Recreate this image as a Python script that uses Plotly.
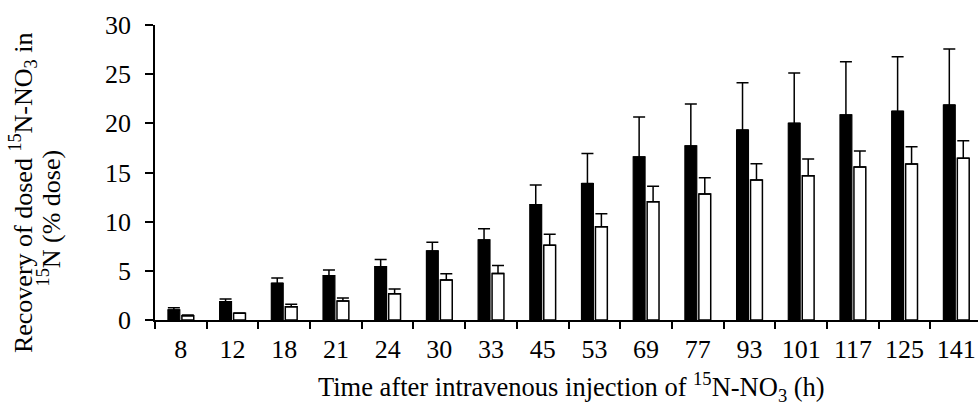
import plotly.graph_objects as go

categories = ["8", "12", "18", "21", "24", "30", "33", "45", "53", "69", "77", "93", "101", "117", "125", "141"]
black_vals = [1.02, 1.86, 3.73, 4.51, 5.42, 7.02, 8.14, 11.73, 13.87, 16.58, 17.70, 19.32, 20.00, 20.85, 21.22, 21.86]
black_err = [0.23, 0.28, 0.54, 0.58, 0.72, 0.88, 1.15, 2.00, 3.05, 4.06, 4.27, 4.81, 5.12, 5.42, 5.56, 5.70]
white_vals = [0.44, 0.68, 1.36, 1.93, 2.68, 4.07, 4.74, 7.59, 9.49, 12.03, 12.81, 14.24, 14.68, 15.56, 15.86, 16.44]
white_err = [0.08, 0.04, 0.23, 0.31, 0.47, 0.64, 0.79, 1.12, 1.32, 1.57, 1.66, 1.66, 1.69, 1.63, 1.77, 1.80]

FONT = "Liberation Serif"

fig = go.Figure()
fig.add_trace(go.Bar(
    x=categories, y=black_vals,
    marker=dict(color="black", line=dict(color="black", width=1.2)),
    error_y=dict(type="data", array=black_err, arrayminus=[0]*len(black_err), symmetric=False,
                 color="black", thickness=1.5, width=6),
    showlegend=False,
))
fig.add_trace(go.Bar(
    x=categories, y=white_vals,
    marker=dict(color="white", line=dict(color="black", width=1.5)),
    error_y=dict(type="data", array=white_err, arrayminus=[0]*len(white_err), symmetric=False,
                 color="black", thickness=1.5, width=6),
    showlegend=False,
))

fig.update_layout(
    width=978, height=403,
    margin=dict(l=155, r=0, t=25, b=83),
    paper_bgcolor="white", plot_bgcolor="white",
    barmode="group", bargap=0.46, bargroupgap=0.15,
    font=dict(family=FONT, color="black"),
    xaxis=dict(
        type="category", range=[-0.5, 15.42],
        showline=True, linecolor="black", linewidth=1.5,
        ticks="outside", ticklen=7, tickwidth=1.5, tickcolor="black",
        tickson="boundaries", showgrid=False, zeroline=False,
        tickfont=dict(family=FONT, size=26, color="black"),
        ticklabelstandoff=5,
    ),
    yaxis=dict(
        range=[0, 30], tickvals=[0, 5, 10, 15, 20, 25, 30],
        showline=True, linecolor="black", linewidth=1.5,
        ticks="outside", ticklen=8, tickwidth=1.5, tickcolor="black",
        showgrid=False, zeroline=False,
        tickfont=dict(family=FONT, size=26, color="black"),
        ticklabelstandoff=9,
    ),
    annotations=[
        dict(text="Recovery of dosed <sup>15</sup>N-NO<sub>3</sub> in",
             xref="paper", yref="paper", x=-0.161, y=0.432, xanchor="center", yanchor="middle",
             textangle=-90, showarrow=False,
             font=dict(family=FONT, size=26, color="black")),
        dict(text="<sup>15</sup>N (% dose)",
             xref="paper", yref="paper", x=-0.127, y=0.3458, xanchor="center", yanchor="middle",
             textangle=-90, showarrow=False,
             font=dict(family=FONT, size=26, color="black")),
        dict(text="Time after intravenous injection of <sup>15</sup>N-NO<sub>3</sub> (h)",
             xref="paper", yref="paper", x=0.5055, y=-0.228, xanchor="center", yanchor="middle",
             showarrow=False, font=dict(family=FONT, size=26.5, color="black")),
    ],
)

fig.write_html("out.html")
